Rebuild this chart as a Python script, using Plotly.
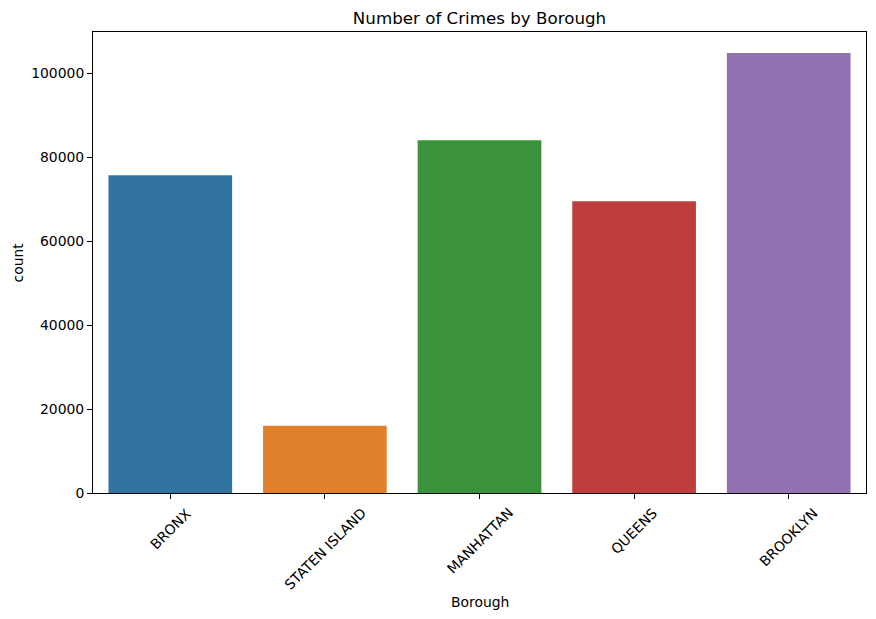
import plotly.graph_objects as go

boroughs = ["BRONX", "STATEN ISLAND", "MANHATTAN", "QUEENS", "BROOKLYN"]
counts = [75700, 16000, 84000, 69500, 104800]
colors = ["#3274a1", "#e1812c", "#3a923a", "#c03d3e", "#9372b2"]
y_ticks = [0, 20000, 40000, 60000, 80000, 100000]

W, H = 876, 619
L, R, T, B = 93, 10, 32, 126
FONT = "DejaVu Sans"

fig = go.Figure()
fig.add_trace(go.Bar(x=list(range(len(boroughs))), y=counts, marker=dict(color=colors, line=dict(width=0)),
                     width=0.8, showlegend=False))

annotations = []
for i, b in enumerate(boroughs):
    annotations.append(dict(x=i, y=0, xref="x", yref="paper", text=b, showarrow=False,
                            textangle=-45, xanchor="center", yanchor="top", yshift=-9,
                            font=dict(family=FONT, size=13.9, color="black")))
annotations.append(dict(x=0.5, y=-(602 - (H - B)) / (H - T - B), xref="paper", yref="paper",
                        text="Borough", showarrow=False, xanchor="center", yanchor="middle",
                        font=dict(family=FONT, size=13.9, color="black")))
annotations.append(dict(x=-(L - 17) / (W - L - R), y=0.5, xref="paper", yref="paper",
                        text="count", showarrow=False, textangle=-90, xanchor="center", yanchor="middle",
                        font=dict(family=FONT, size=13.9, color="black")))

fig.update_layout(
    width=W, height=H,
    margin=dict(l=L, r=R, t=T, b=B, pad=0),
    paper_bgcolor="white", plot_bgcolor="white",
    font=dict(family=FONT, size=13.9, color="black"),
    title=dict(text="Number of Crimes by Borough", x=(L + (W - L - R) / 2) / W, xanchor="center",
               y=1 - 18 / H, yanchor="middle", yref="container",
               font=dict(family=FONT, size=16.7, color="black")),
    bargap=0.2,
    annotations=annotations,
)
fig.update_xaxes(range=[-0.5, len(boroughs) - 0.5], tickvals=list(range(len(boroughs))),
                 showticklabels=False, ticks="outside", ticklen=5, tickwidth=1, tickcolor="black",
                 showline=True, linecolor="black", linewidth=1, mirror=True, showgrid=False, zeroline=False)
fig.update_yaxes(range=[0, 109800], tickvals=y_ticks, ticktext=[str(v) for v in y_ticks],
                 ticks="outside", ticklen=5, tickwidth=1, tickcolor="black",
                 tickfont=dict(family=FONT, size=13.9, color="black"),
                 showline=True, linecolor="black", linewidth=1, mirror=True, showgrid=False, zeroline=False)

fig.write_html("out.html")
